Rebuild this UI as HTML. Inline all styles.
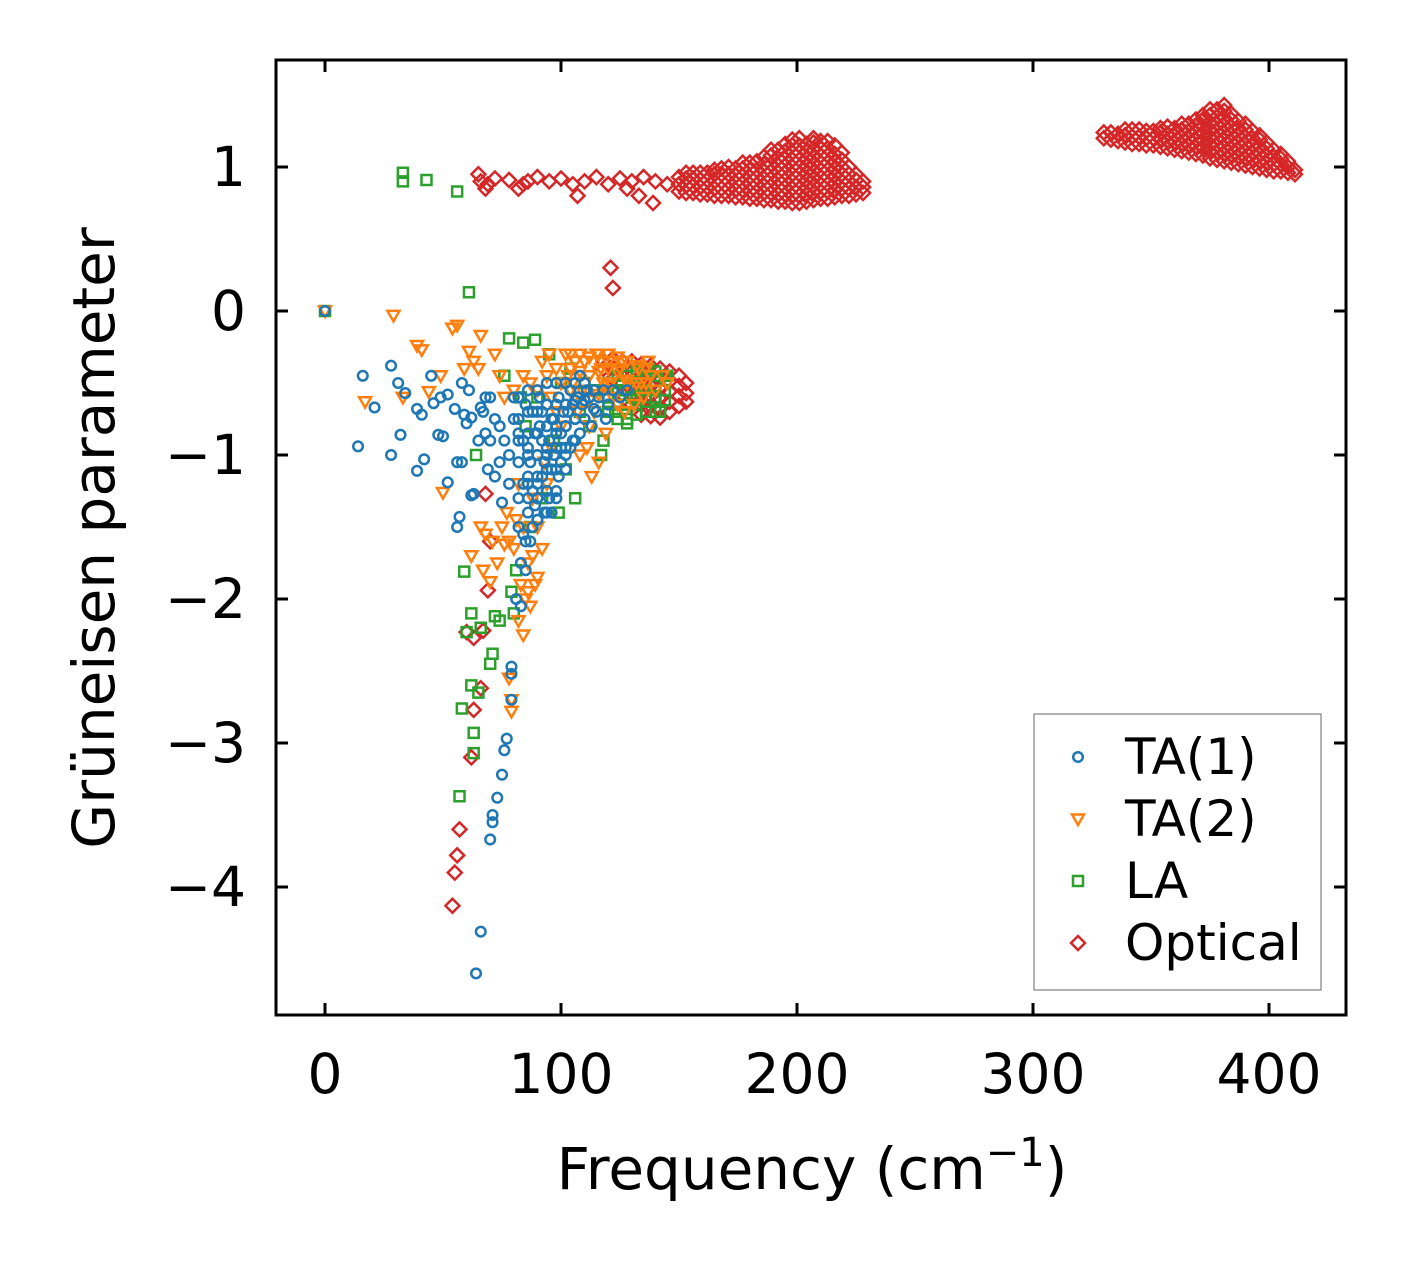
<!DOCTYPE html>
<html><head><meta charset="utf-8"><style>
html,body{margin:0;padding:0;background:#fff;}
svg{display:block;font-family:"DejaVu Sans","Liberation Sans",sans-serif;}
</style></head><body>
<svg id="chart" width="1406" height="1264" viewBox="0 0 1406 1264" xmlns="http://www.w3.org/2000/svg">
<g id="marks"></g>
<rect x="276" y="60" width="1070" height="955" fill="none" stroke="#000" stroke-width="3"/>
<g id="ticks"></g>
<text x="812" y="1189" font-size="58" text-anchor="middle">Frequency (cm<tspan font-size="40" dy="-23">−1</tspan><tspan dy="23">)</tspan></text>
<text transform="translate(114,538) rotate(-90)" font-size="58" text-anchor="middle">Grüneisen parameter</text>
<g>
<rect x="1034" y="714" width="287" height="276" fill="#fff" stroke="#999" stroke-width="1.5"/>
<g id="legend-items"></g>
</g>
</svg>
<script>
const xTicks=[0,100,200,300,400];
const yTicks=[1,0,-1,-2,-3,-4];
const yTickLabels=["1","0","−1","−2","−3","−4"];
const seriesNames=["TA(1)","TA(2)","LA","Optical"];
const ta1Points=[[0,0],[14,-0.94],[16,-0.45],[21,-0.67],[28,-0.38],[28,-1.0],[31,-0.5],[32,-0.86],[34,-0.57],[39,-0.68],[39,-1.11],[41,-0.72],[42,-1.03],[45,-0.45],[46,-0.64],[48,-0.86],[49,-0.6],[50,-0.87],[52,-1.19],[52,-0.58],[55,-0.68],[56,-1.05],[56,-1.5],[57,-1.43],[58,-1.05],[58,-0.5],[59,-0.72],[60,-0.78],[61,-0.55],[62,-0.74],[62,-1.28],[63,-1.27],[64,-4.6],[65,-0.9],[66,-0.67],[66,-4.31],[67,-0.7],[68,-0.85],[69,-1.1],[70,-3.67],[70,-0.6],[71,-3.55],[71,-3.5],[72,-1.15],[73,-3.38],[74,-0.8],[75,-3.22],[75,-1.33],[76,-3.05],[77,-2.97],[78,-1.0],[79,-2.7],[79,-2.47],[79,-2.52],[80,-0.6],[81,-2.0],[82,-1.5],[83,-2.05],[84,-0.9],[85,-1.8],[86,-1.2],[87,-1.6],[88,-0.7],[89,-1.35],[90,-1.0],[91,-0.8],[92,-1.15],[93,-1.4],[94,-0.65],[95,-0.9],[96,-1.1],[97,-0.75],[98,-1.3],[99,-0.6],[100,-0.85],[102,-1.0],[103,-0.7],[104,-0.55],[105,-0.9],[107,-0.6],[108,-0.45],[110,-0.75],[112,-0.6],[115,-0.7],[118,-0.55],[120,-0.65],[125,-0.6],[128,-0.55],
[80,-0.75],[82,-0.85],[84,-1.2],[85,-0.65],[86,-0.95],[87,-1.05],[88,-1.25],[89,-0.85],[90,-1.2],[90,-1.45],[91,-0.6],[92,-0.9],[93,-1.05],[94,-1.25],[95,-1.3],[96,-0.75],[97,-1.0],[98,-0.85],[99,-1.15],[100,-1.05],[101,-0.7],[102,-0.8],[104,-0.95],[106,-0.75],[108,-0.85],[109,-0.65],[111,-0.55],[113,-0.8],[116,-0.6],[119,-0.75],[122,-0.55],[86,-1.4],[88,-1.5],[84,-1.55],[82,-1.3],[78,-1.2],[76,-0.9],[74,-1.05],[72,-0.75],[70,-0.9],[68,-0.6],[96,-1.4],[94,-1.0],[92,-0.7],[105,-0.65],[100,-0.95],[83,-1.75],[85,-1.6]];
const ta1Columns=[[82,[-0.6,-0.75,-0.9,-1.05]],[86,[-0.55,-0.7,-0.85,-1.0,-1.15,-1.3]],[90,[-0.55,-0.7,-0.85,-1.0,-1.15,-1.3,-1.45]],[94,[-0.5,-0.65,-0.8,-0.95,-1.1,-1.25,-1.4]],[98,[-0.5,-0.65,-0.8,-0.95,-1.1,-1.25]],[102,[-0.5,-0.65,-0.8,-0.95,-1.1]],[106,[-0.5,-0.62,-0.75,-0.9]],[110,[-0.5,-0.62,-0.75]],[114,[-0.55,-0.68]]];
const ta2Points=[[0,0],[17,-0.63],[29,-0.03],[33,-0.6],[39,-0.24],[41,-0.27],[44,-0.56],[49,-0.45],[50,-1.26],[54,-0.12],[56,-0.1],[59,-0.4],[61,-0.28],[62,-1.7],[63,-0.35],[65,-0.4],[66,-1.5],[66,-0.17],[67,-1.8],[68,-1.55],[70,-1.88],[71,-1.6],[72,-0.3],[73,-1.75],[74,-0.45],[75,-1.5],[76,-1.62],[77,-1.4],[78,-2.55],[79,-2.78],[79,-2.7],[80,-1.65],[81,-1.45],[82,-2.15],[83,-1.9],[84,-2.25],[85,-2.0],[86,-1.95],[87,-0.5],[88,-1.7],[89,-1.9],[90,-1.85],[92,-0.35],[93,-1.05],[95,-0.3],[96,-0.6],[98,-0.4],[100,-0.8],[102,-0.3],[105,-0.5],[107,-0.7],[108,-1.0],[110,-0.35],[112,-0.8],[113,-1.15],[115,-0.3],[116,-1.05],[118,-0.5],[120,-0.35],[122,-0.6],[125,-0.4],[127,-0.7],[130,-0.5],[133,-0.4],[135,-0.6],[138,-0.45],[140,-0.55],[143,-0.45],[145,-0.5],
[88,-1.3],[90,-1.5],[92,-1.65],[86,-1.75],[84,-1.5],[94,-1.2],[96,-0.95],[98,-0.7],[100,-0.5],[103,-0.45],[106,-0.35],[109,-0.55],[111,-0.95],[114,-0.7],[117,-0.4],[119,-0.85],[121,-0.5],[124,-0.65],[126,-0.35],[128,-0.5],[131,-0.65],[134,-0.5],[137,-0.35],[76,-0.6],[80,-0.55],[84,-0.45],[90,-0.55],[94,-0.45],[82,-1.2],[78,-1.6],[87,-2.05]];
const ta2Columns=[[104,[-0.3,-0.4,-0.55]],[108,[-0.3,-0.42,-0.6]],[112,[-0.32,-0.45,-0.62]],[116,[-0.3,-0.42,-0.58]],[120,[-0.3,-0.4,-0.52]],[124,[-0.32,-0.42]],[128,[-0.35,-0.48]],[132,[-0.38,-0.5]],[136,[-0.4,-0.5]]];
const laPoints=[[0,0],[33,0.96],[33,0.9],[43,0.91],[56,0.83],[57,-3.37],[58,-2.76],[59,-1.81],[60,-2.23],[61,0.13],[62,-2.6],[62,-2.1],[63,-2.93],[63,-3.07],[64,-1.0],[65,-2.65],[66,-2.2],[70,-2.45],[71,-2.38],[72,-2.12],[74,-2.15],[76,-0.45],[78,-0.19],[79,-1.95],[80,-2.1],[81,-1.8],[83,-0.6],[84,-0.22],[85,-0.8],[87,-1.5],[89,-0.2],[90,-0.6],[92,-1.3],[95,-0.3],[97,-0.9],[99,-1.4],[100,-0.5],[102,-1.1],[104,-0.4],[106,-1.3],[108,-0.7],[110,-0.5],[112,-0.8],[115,-0.55],[117,-1.0],[118,-0.9],[120,-0.6],[123,-0.7],[125,-0.5],[128,-0.75],[130,-0.6],[132,-0.45],[135,-0.55],[137,-0.4],[140,-0.6],[142,-0.7],[145,-0.45]];
const laColumns=[[120,[-0.5,-0.6,-0.7]],[124,[-0.45,-0.55,-0.65,-0.75]],[128,[-0.45,-0.55,-0.65,-0.78]],[132,[-0.42,-0.52,-0.62,-0.72]],[136,[-0.4,-0.5,-0.6,-0.7]],[140,[-0.42,-0.52,-0.62,-0.7]],[144,[-0.45,-0.55,-0.62]]];
const opticalPoints=[[54,-4.13],[55,-3.9],[56,-3.78],[57,-3.6],[60,-2.23],[62,-3.1],[63,-2.77],[63,-2.27],[66,-2.62],[67,-2.22],[68,-1.27],[69,-1.94],[70,-1.6],[121,0.3],[122,0.16],
[65,0.95],[66,0.9],[68,0.85],[69,0.88],[72,0.92],[78,0.91],[82,0.85],[84,0.88],[86,0.9],[90,0.93],[95,0.9],[100,0.92],[105,0.88],[107,0.8],[110,0.9],[115,0.93],[120,0.88],[125,0.92],[128,0.85],[130,0.9],[133,0.8],[135,0.93],[139,0.75],[140,0.9],[145,0.88]];
const opticalColumns=[[150,[0.83,0.88,0.93]],[153,[0.82,0.87,0.92,0.96]],[156,[0.82,0.87,0.92,0.96]],[159,[0.81,0.86,0.91,0.96]],[162,[0.81,0.86,0.91,0.96]],[165,[0.8,0.85,0.9,0.95,0.98]],[168,[0.8,0.85,0.9,0.95,0.99]],[171,[0.8,0.85,0.9,0.95,1.0]],[174,[0.79,0.84,0.89,0.94,0.99]],[177,[0.79,0.84,0.89,0.94,0.99,1.03]],[180,[0.78,0.83,0.88,0.93,0.98,1.03]],[183,[0.78,0.83,0.88,0.93,0.98,1.04]],[186,[0.77,0.82,0.87,0.92,0.97,1.02,1.07]],[189,[0.77,0.82,0.87,0.92,0.97,1.02,1.08,1.12]],[192,[0.76,0.81,0.86,0.91,0.96,1.01,1.06,1.12]],[195,[0.76,0.81,0.86,0.91,0.96,1.01,1.06,1.11,1.16]],[198,[0.75,0.8,0.85,0.9,0.95,1.0,1.05,1.1,1.15,1.19]],[201,[0.75,0.8,0.85,0.9,0.95,1.0,1.05,1.1,1.15,1.2]],[204,[0.76,0.81,0.86,0.91,0.96,1.01,1.06,1.11,1.16]],[207,[0.77,0.82,0.87,0.92,0.97,1.02,1.07,1.12,1.17,1.2]],[210,[0.78,0.83,0.88,0.93,0.98,1.03,1.08,1.13,1.18]],[213,[0.78,0.83,0.88,0.93,0.98,1.03,1.08,1.13,1.18]],[216,[0.79,0.84,0.89,0.94,0.99,1.04,1.09,1.15]],[219,[0.8,0.85,0.9,0.95,1.0,1.05,1.1]],[222,[0.8,0.85,0.9,0.95,1.0]],[225,[0.81,0.86,0.91,0.95]],[228,[0.82,0.86,0.9]],
[330,[1.2,1.24]],[333,[1.19,1.24]],[336,[1.18,1.23]],[339,[1.17,1.22,1.26]],[342,[1.16,1.21,1.26]],[345,[1.16,1.21,1.26]],[348,[1.15,1.2,1.25]],[351,[1.15,1.2,1.25]],[354,[1.14,1.19,1.24,1.27]],[357,[1.13,1.18,1.23,1.28]],[360,[1.12,1.17,1.22,1.27]],[363,[1.11,1.16,1.21,1.26,1.3]],[366,[1.1,1.15,1.2,1.25,1.3]],[369,[1.09,1.14,1.19,1.24,1.29,1.33]],[372,[1.08,1.13,1.18,1.23,1.28,1.33,1.36]],[375,[1.06,1.11,1.16,1.21,1.26,1.31,1.36,1.4]],[378,[1.05,1.1,1.15,1.2,1.25,1.3,1.35,1.4]],[381,[1.04,1.09,1.14,1.19,1.24,1.29,1.34,1.39,1.43]],[384,[1.03,1.08,1.13,1.18,1.23,1.28,1.33,1.37]],[387,[1.02,1.07,1.12,1.17,1.22,1.27,1.32]],[390,[1.01,1.06,1.11,1.16,1.21,1.26,1.3]],[393,[1.0,1.05,1.1,1.15,1.2,1.25]],[396,[0.99,1.04,1.09,1.14,1.19,1.22]],[399,[0.98,1.03,1.08,1.13,1.17]],[402,[0.97,1.02,1.07,1.12]],[405,[0.97,1.02,1.06,1.09]],[408,[0.96,1.0,1.04]],[411,[0.95,0.98]],
[118,[-0.35,-0.4]],[122,[-0.33,-0.4,-0.47]],[126,[-0.35,-0.42,-0.5,-0.58]],[130,[-0.35,-0.42,-0.5,-0.58,-0.65]],[134,[-0.37,-0.44,-0.51,-0.58,-0.65,-0.72]],[138,[-0.38,-0.45,-0.52,-0.59,-0.66,-0.73]],[142,[-0.4,-0.47,-0.54,-0.61,-0.68,-0.74]],[146,[-0.42,-0.49,-0.56,-0.63,-0.7]],[150,[-0.45,-0.52,-0.59,-0.66]],[153,[-0.5,-0.57,-0.63]]];
const NS="http://www.w3.org/2000/svg";
const X0=325, XS=2.36, Y0=311, YS=144;
function xScale(v){return X0+v*XS;}
function yScale(v){return Y0-v*YS;}
const colors=["#1f77b4","#ff7f0e","#2ca02c","#d62728"];
function marker(kind,cx,cy,color){
  let el;
  if(kind===0){el=document.createElementNS(NS,"circle");el.setAttribute("cx",cx);el.setAttribute("cy",cy);el.setAttribute("r",4.8);}
  else{
    el=document.createElementNS(NS,"polygon");let p;
    if(kind===1)p=[[cx-6,cy-4.5],[cx+6,cy-4.5],[cx,cy+6]];
    else if(kind===2)p=[[cx-5,cy-5],[cx+5,cy-5],[cx+5,cy+5],[cx-5,cy+5]];
    else p=[[cx,cy-7],[cx+7,cy],[cx,cy+7],[cx-7,cy]];
    el.setAttribute("points",p.map(q=>q.join(",")).join(" "));
  }
  el.setAttribute("fill","none");el.setAttribute("stroke",color);el.setAttribute("stroke-width","2.5");
  return el;
}
function flatten(points,cols){const out=points.slice();cols.forEach(c=>c[1].forEach(y=>out.push([c[0],y])));return out;}
const marks=document.getElementById("marks");
const allSeries=[flatten(ta1Points,ta1Columns),flatten(ta2Points,ta2Columns),flatten(laPoints,laColumns),flatten(opticalPoints,opticalColumns)];
const names=["ta1","ta2","la","optical"];
[3,2,1,0].forEach(k=>{
  const g=document.createElementNS(NS,"g");
  
  
  allSeries[k].forEach(pt=>{
    const m=marker(k,xScale(pt[0]),yScale(pt[1]),colors[k]);
    
    
    g.appendChild(m);
  });
  marks.appendChild(g);
});
const ticks=document.getElementById("ticks");
function line(x1,y1,x2,y2){const l=document.createElementNS(NS,"line");l.setAttribute("x1",x1);l.setAttribute("y1",y1);l.setAttribute("x2",x2);l.setAttribute("y2",y2);l.setAttribute("stroke","#000");l.setAttribute("stroke-width","3");return l;}
function text(x,y,s,anchor,fs){const t=document.createElementNS(NS,"text");t.setAttribute("x",x);t.setAttribute("y",y);t.setAttribute("font-size",fs);t.setAttribute("text-anchor",anchor);t.textContent=s;return t;}
xTicks.forEach(v=>{
  const x=xScale(v);
  const a=line(x,1015,x,1003);ticks.appendChild(a);
  const b=line(x,60,x,72);ticks.appendChild(b);
  const t=text(x,1093,String(v),"middle",55);ticks.appendChild(t);
});
yTicks.forEach((v,i)=>{
  const y=yScale(v);
  const a=line(276,y,288,y);ticks.appendChild(a);
  const b=line(1346,y,1334,y);ticks.appendChild(b);
  const t=text(246,y+19,yTickLabels[i],"end",55);ticks.appendChild(t);
});
const li=document.getElementById("legend-items");
seriesNames.forEach((n,k)=>{
  const y=757+k*62;
  const g=document.createElementNS(NS,"g");
  
  
  g.appendChild(marker(k,1078,y,colors[k]));
  g.appendChild(text(1125,y+17,n,"start",50));
  li.appendChild(g);
});
</script>
</body></html>
